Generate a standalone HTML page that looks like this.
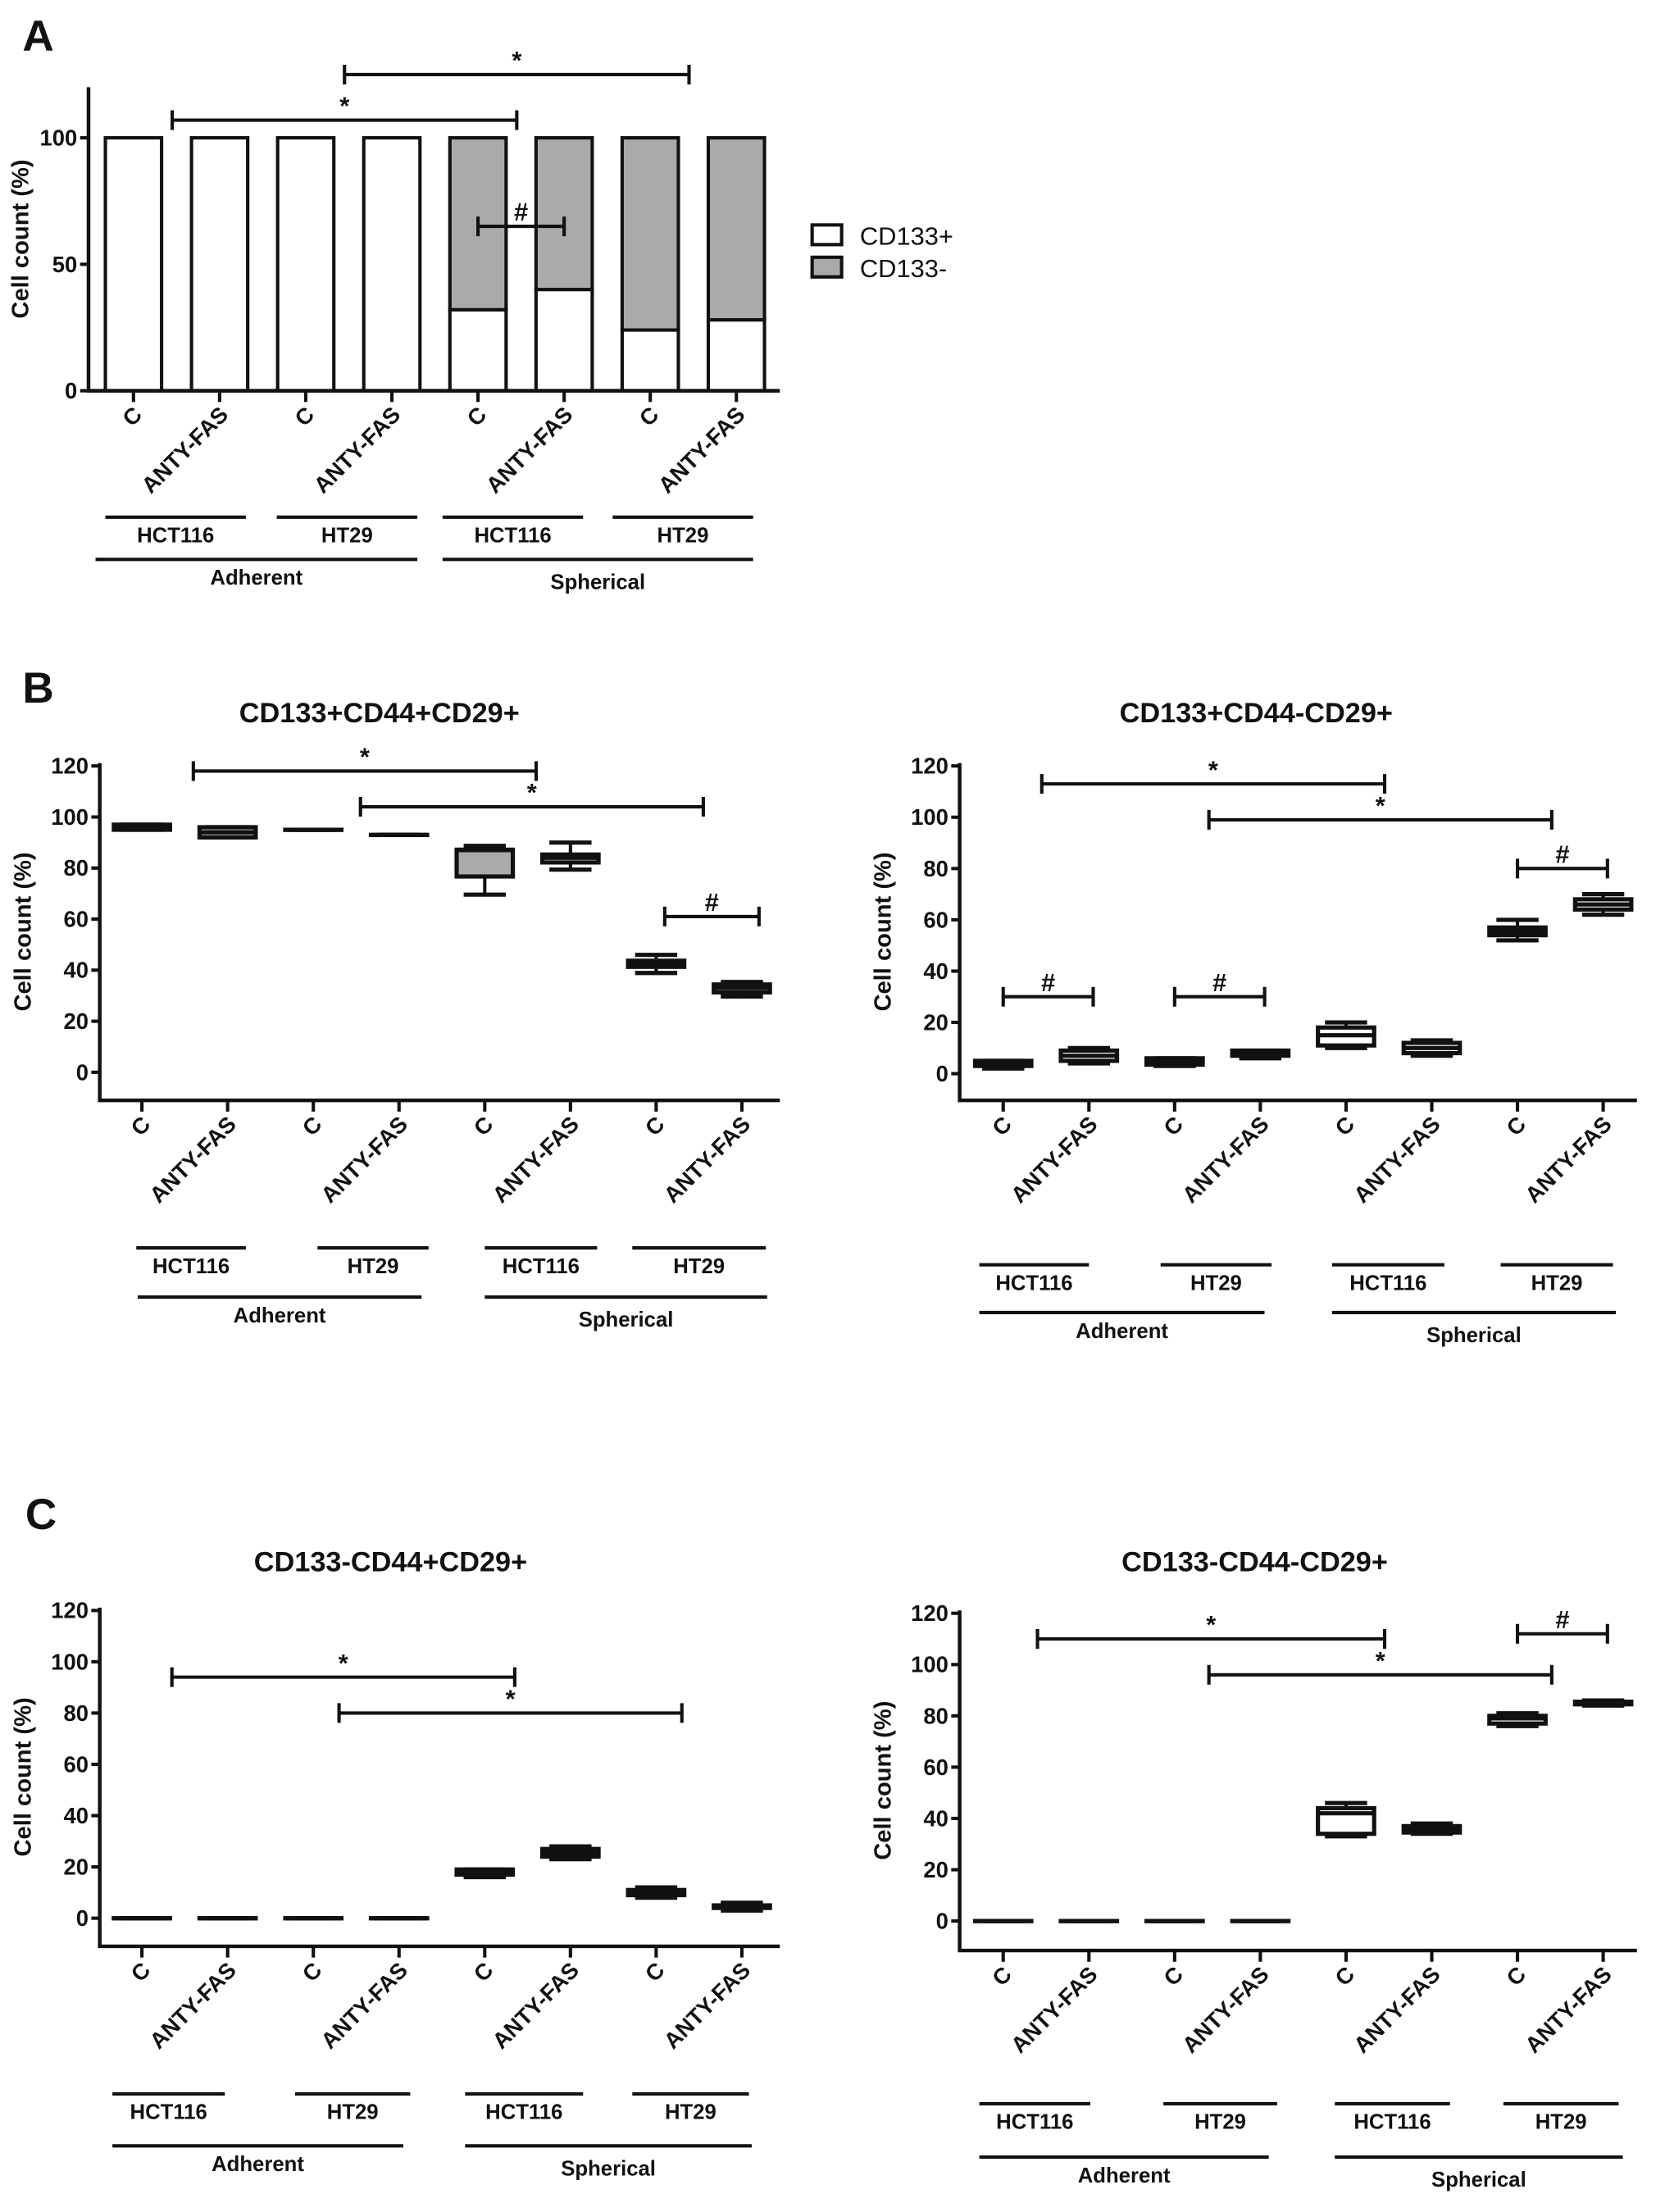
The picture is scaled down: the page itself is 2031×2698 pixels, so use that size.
<!DOCTYPE html>
<html><head><meta charset="utf-8">
<style>
html,body{margin:0;padding:0;background:#fff;}
svg{display:block;}
text{font-family:"Liberation Sans",Arial,sans-serif;font-weight:bold;fill:#111;}
</style></head>
<body>
<svg id="fig" xmlns="http://www.w3.org/2000/svg" width="2031" height="2698" viewBox="0 0 1185 1574">
<rect width="1185" height="1574" fill="#fff"/>
</svg>
<script>
// ---------- DATA ----------
const categories = ["C","ANTY-FAS","C","ANTY-FAS","C","ANTY-FAS","C","ANTY-FAS"];
const cellLines = ["HCT116","HT29","HCT116","HT29"];
const cultures = ["Adherent","Spherical"];
// Panel A (stacked %)
const aPositive = [100,100,100,100,32,40,24,28];
const aTicks = [0,50,100];
// Box plots: [whiskerLow, q1, median, q3, whiskerHigh]
const bLeftBoxes = [[95,95,96,97,97],[92,92,94,96,96],[95,95,95,95,95],[93,93,93,93,93],[69.6,76.7,87,87.2,88.7],[79.4,82.2,84,85.3,90],[38.9,41.3,42.5,43.7,46],[29.7,31.3,33,34.4,35.4]];
const bRightBoxes = [[2,3,4,5,5],[4,5,7,9,10],[3,3.5,4.5,6,6],[6,7,8,9,9],[10,11,15,18,20],[7,8,10,12,13],[52,54,55.5,57,60],[62,64,66,68,70]];
const cLeftBoxes = [[0,0,0,0,0],[0,0,0,0,0],[0,0,0,0,0],[0,0,0,0,0],[16,17,18,19,19],[23,24,25.5,27,28],[8,9,10,11,12],[3,4,4.5,5,6]];
const cRightBoxes = [[0,0,0,0,0],[0,0,0,0,0],[0,0,0,0,0],[0,0,0,0,0],[33,34,42,44,46],[34,34.5,35.5,37,38],[76,77,79,80,81],[84,84.5,85,85.5,86]];
const boxTicks = [0,20,40,60,80,100,120];
// significance brackets: [fromCat, toCat, yValue, symbol]
const aSig = [[0.45,4.45,107,"*"],[2.45,6.45,125,"*"],[4,5,65,"#"]];
const bLeftSig = [[0.6,4.6,118,"*"],[2.55,6.55,104,"*"],[6.1,7.2,61,"#"]];
const bRightSig = [[0.45,4.45,113,"*"],[2.4,6.4,99,"*"],[6,7.05,80,"#"],[0,1.05,30,"#"],[2,3.05,30,"#"]];
const cLeftSig = [[0.35,4.35,94,"*"],[2.3,6.3,80,"*"]];
const cRightSig = [[0.4,4.45,110,"*"],[2.4,6.4,96,"*"],[6,7.05,112,"#"]];

// ---------- HELPERS ----------
const NS="http://www.w3.org/2000/svg";
const svg=document.getElementById('fig');
function el(tag,attrs,parent){const e=document.createElementNS(NS,tag);for(const k in attrs)e.setAttribute(k,attrs[k]);(parent||svg).appendChild(e);return e;}
function txt(s,attrs,parent){const t=el('text',attrs,parent);t.textContent=s;return t;}

function axes(g,P){
  const x0=P.axisX, y=v=>P.y0-(v-0)*P.ppu;
  const ax=el('path',{d:`M${x0},${P.top} V${P.axisY} H${P.right}`,fill:'none',stroke:'#111','stroke-width':2.6},g);
  
  
  P.ticks.forEach(t=>{
    el('line',{x1:x0-6,x2:x0,y1:y(t),y2:y(t),stroke:'#111','stroke-width':2.4},g);
    const tl=txt(String(t),{x:x0-8,y:y(t)+5.5,'text-anchor':'end','font-size':16},g);
    
    
  });
  const yl=txt('Cell count  (%)',{x:0,y:0,'text-anchor':'middle','font-size':17,transform:`translate(${P.ylabelX},${(P.top+P.axisY)/2}) rotate(-90)`},g);
  
  
  categories.forEach((c,i)=>{
    const cx=P.cx(i);
    el('line',{x1:cx,x2:cx,y1:P.axisY,y2:P.axisY+8,stroke:'#111','stroke-width':2.4},g);
    const lab=txt(c,{x:0,y:0,'text-anchor':'end','font-size':16,transform:`translate(${cx+7},${P.axisY+18}) rotate(-45)`},g);
    
    
  });
  cellLines.forEach((s,i)=>{
    const [a,b]=P.grp[i];
    el('line',{x1:a,x2:b,y1:P.gy,y2:P.gy,stroke:'#111','stroke-width':2.4},g);
    const t=txt(s,{x:(a+b)/2,y:P.gy+18,'text-anchor':'middle','font-size':15},g);
    
    
  });
  cultures.forEach((s,i)=>{
    const [a,b]=P.big[i];
    el('line',{x1:a,x2:b,y1:P.by,y2:P.by,stroke:'#111','stroke-width':2.4},g);
    const t=txt(s,{x:(a+b)/2,y:P.by+18+i*3,'text-anchor':'middle','font-size':15},g);
    
    
  });
  return y;
}
function sig(g,P,y,list){
  const fx=f=>P.cx(0)+f*P.step;
  list.forEach(s=>{
    const a=fx(s[0]),b=fx(s[1]),yy=y(s[2]);
    const br=el('path',{d:`M${a},${yy-7}V${yy+7}M${a},${yy}H${b}M${b},${yy-7}V${yy+7}`,stroke:'#111','stroke-width':2.4,fill:'none'},g);
    
    
    const t=txt(s[3],{x:(a+b)/2,y:yy-4,'text-anchor':'middle','font-size':18},g);
    
    
  });
}
function boxes(g,P,y,data,fills){
  data.forEach((d,i)=>{
    const cx=P.cx(i), w=40, cw=30;
    const bg=el('g',{},g);
    
    
    el('line',{x1:cx,x2:cx,y1:y(d[0]),y2:y(d[4]),stroke:'#111','stroke-width':2.4},bg);
    el('line',{x1:cx-cw/2,x2:cx+cw/2,y1:y(d[0]),y2:y(d[0]),stroke:'#111','stroke-width':3},bg);
    el('line',{x1:cx-cw/2,x2:cx+cw/2,y1:y(d[4]),y2:y(d[4]),stroke:'#111','stroke-width':3},bg);
    el('rect',{x:cx-w/2,y:y(d[3]),width:w,height:Math.max(0.1,y(d[1])-y(d[3])),fill:fills[i]||'#fff',stroke:'#111','stroke-width':3},bg);
    el('line',{x1:cx-w/2,x2:cx+w/2,y1:y(d[2]),y2:y(d[2]),stroke:'#111','stroke-width':3},bg);
  });
}
function title(s,x,yy){const t=txt(s,{x:x,y:yy,'text-anchor':'middle','font-size':20});}
function letter(s,x,yy){const t=txt(s,{x:x,y:yy,'font-size':31});}

// ---------- PANEL A ----------
letter('A',16,36);
(function(){
  const g=el('g',{});
  const P={axisX:63,top:62,axisY:278,right:555,y0:278,ppu:1.8,ticks:aTicks,ylabelX:20,step:61.3,
    cx:i=>95+i*61.3,gy:368,by:398,grp:[[75,175],[197,297],[315,415],[436,536]],big:[[68,297],[315,536]]};
  aPositive.forEach((v,i)=>{
    const cx=P.cx(i),yb=P.y0;const yv=yb-v*P.ppu, yt=yb-100*P.ppu;
    const r1=el('rect',{x:cx-20,y:yt,width:40,height:yv-yt,fill:'#aaa',stroke:'#111','stroke-width':2.4},g);
    
    
    const r2=el('rect',{x:cx-20,y:yv,width:40,height:yb-yv,fill:'#fff',stroke:'#111','stroke-width':2.4},g);
    
    
  });
  const y=axes(g,P);
  sig(g,P,y,aSig);
  const lg=el('g',{},g);
  el('rect',{x:578,y:160,width:21,height:14,fill:'#fff',stroke:'#111','stroke-width':2.4},lg);
  el('rect',{x:578,y:183,width:21,height:14,fill:'#aaa',stroke:'#111','stroke-width':2.4},lg);
  const l1=txt('CD133+',{x:612,y:174,'font-size':18},lg);l1.style.fontWeight='normal';
  const l2=txt('CD133-',{x:612,y:197,'font-size':18},lg);l2.style.fontWeight='normal';
})();

// ---------- BOX PANELS ----------
function boxPanel(name,P,data,sigs,fills){
  const g=el('g',{});
  const y=axes(g,P);
  boxes(g,P,y,data,fills);
  sig(g,P,y,sigs);
}
letter('B',16,500);
title('CD133+CD44+CD29+',270,514);
boxPanel('panel-b-left-chart',{axisX:71,top:543,axisY:783,right:555,y0:763,ppu:218/120,ticks:boxTicks,ylabelX:22,step:61,
  cx:i=>101+i*61,gy:888,by:923,grp:[[97,175],[226,305],[345,425],[450,545]],big:[[98,300],[345,546]]},
  bLeftBoxes,bLeftSig,['#fff','#aaa','#fff','#fff','#aaa','#fff','#fff','#fff']);
title('CD133+CD44-CD29+',894,514);
boxPanel('panel-b-right-chart',{axisX:683,top:543,axisY:783,right:1165,y0:764,ppu:219/120,ticks:boxTicks,ylabelX:634,step:61,
  cx:i=>714+i*61,gy:900,by:934,grp:[[697,775],[826,905],[948,1028],[1068,1148]],big:[[697,900],[948,1150]]},
  bRightBoxes,bRightSig,[]);
letter('C',18,1088);
title('CD133-CD44+CD29+',278,1118);
boxPanel('panel-c-left-chart',{axisX:71,top:1144,axisY:1385,right:555,y0:1365,ppu:219/120,ticks:boxTicks,ylabelX:22,step:61,
  cx:i=>101+i*61,gy:1490,by:1527,grp:[[80,160],[210,292],[331,415],[450,533]],big:[[80,287],[331,535]]},
  cLeftBoxes,cLeftSig,[]);
title('CD133-CD44-CD29+',893,1118);
boxPanel('panel-c-right-chart',{axisX:683,top:1146,axisY:1388,right:1165,y0:1367,ppu:219/120,ticks:boxTicks,ylabelX:634,step:61,
  cx:i=>714+i*61,gy:1497,by:1535,grp:[[697,776],[828,909],[950,1032],[1070,1152]],big:[[697,903],[950,1155]]},
  cRightBoxes,cRightSig,[]);
</script>
</body></html>
